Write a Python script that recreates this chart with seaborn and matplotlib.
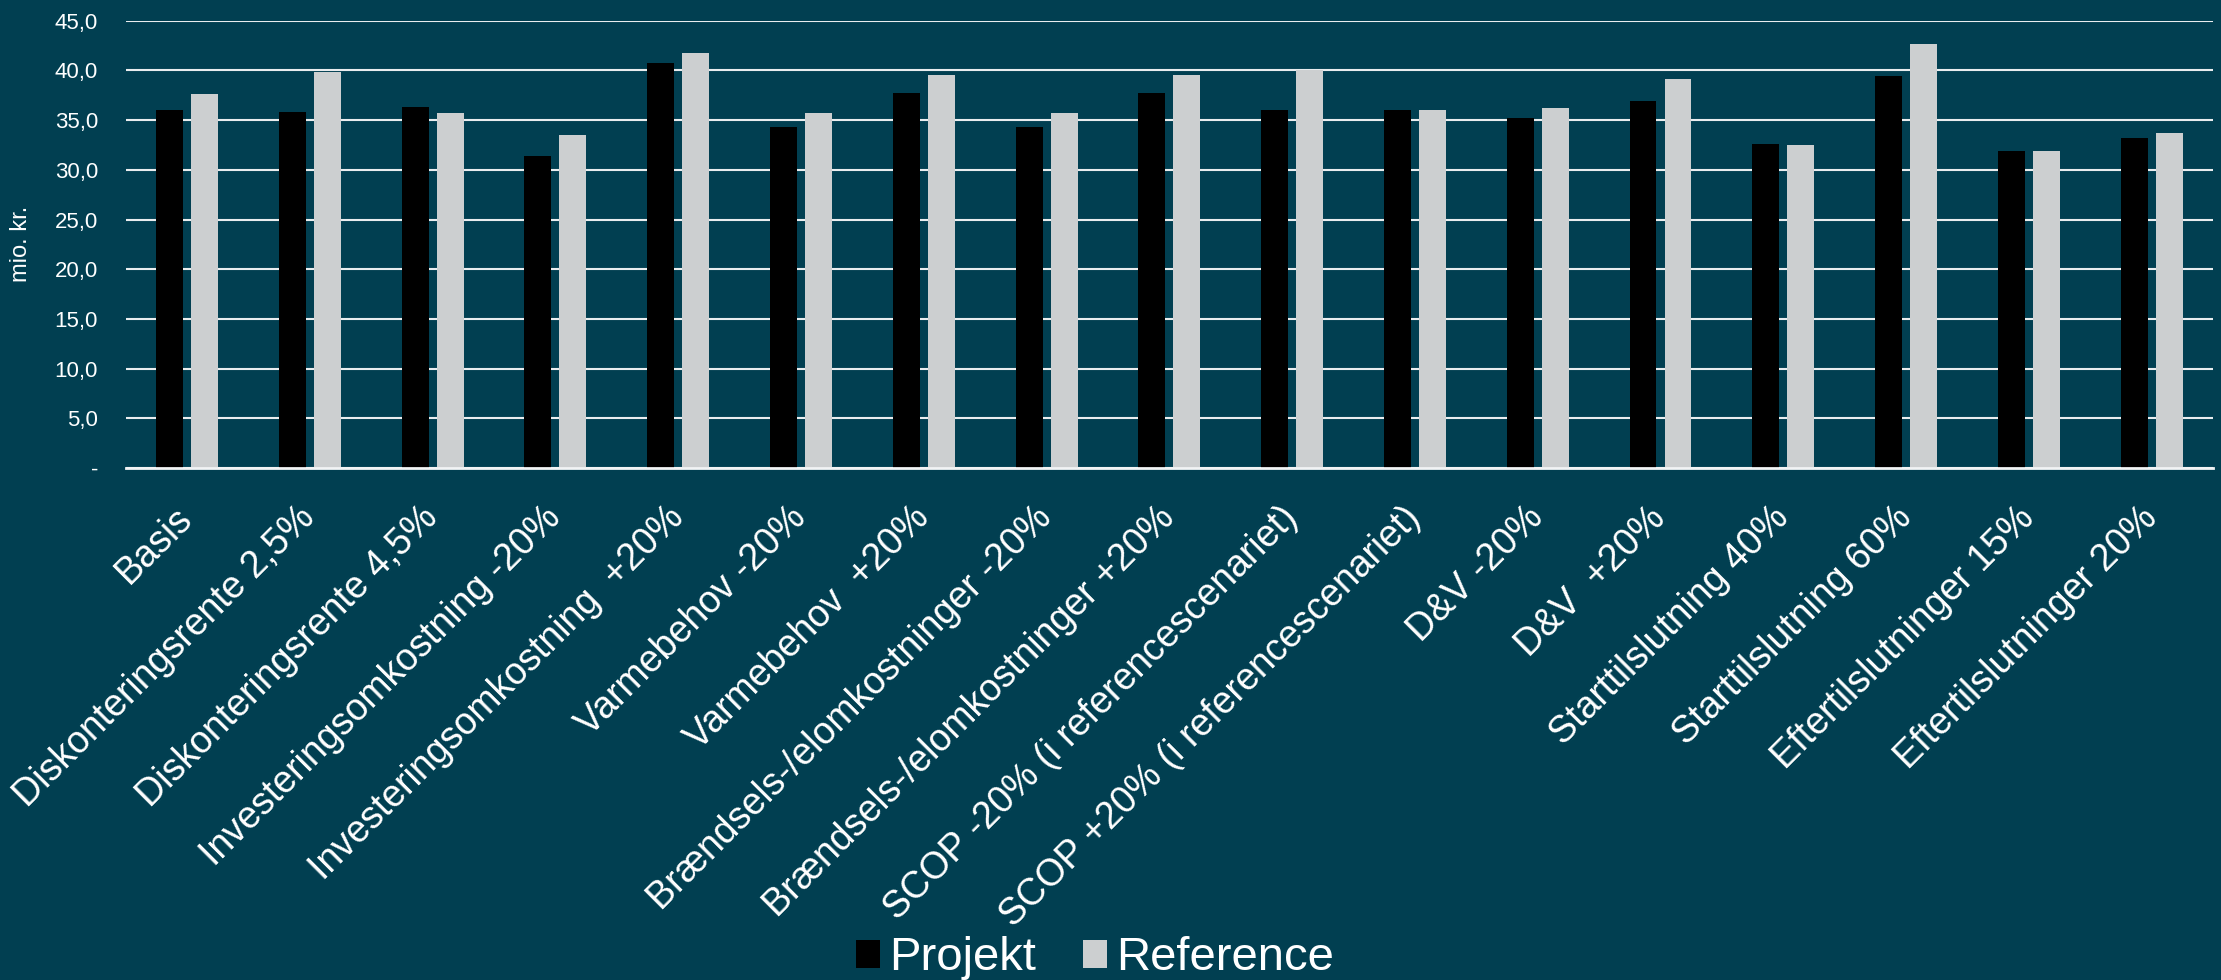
import matplotlib
matplotlib.use("Agg")
import matplotlib.pyplot as plt
import seaborn as sns
import pandas as pd
import numpy as np

# ---- data ----
categories = [
    "Basis",
    "Diskonteringsrente 2,5%",
    "Diskonteringsrente 4,5%",
    "Investeringsomkostning -20%",
    "Investeringsomkostning  +20%",
    "Varmebehov -20%",
    "Varmebehov  +20%",
    "Brændsels-/elomkostninger -20%",
    "Brændsels-/elomkostninger +20%",
    "SCOP -20% (i referencescenariet)",
    "SCOP +20% (i referencescenariet)",
    "D&V -20%",
    "D&V  +20%",
    "Starttilslutning 40%",
    "Starttilslutning 60%",
    "Eftertilslutninger 15%",
    "Eftertilslutninger 20%",
]
projekt = [36.0, 35.8, 36.3, 31.4, 40.7, 34.3, 37.7, 34.3, 37.7, 36.0, 36.0, 35.2, 36.9, 32.6, 39.4, 31.9, 33.2]
reference = [37.6, 39.8, 35.7, 33.5, 41.7, 35.7, 39.5, 35.7, 39.5, 40.0, 36.0, 36.2, 39.1, 32.5, 42.7, 31.9, 33.7]
series_names = ["Projekt", "Reference"]
y_ticks = [0, 5, 10, 15, 20, 25, 30, 35, 40, 45]
y_tick_labels = ["-", "5,0", "10,0", "15,0", "20,0", "25,0", "30,0", "35,0", "40,0", "45,0"]
y_label = "mio. kr."

# ---- style ----
BG = "#013F51"
COLORS = {"Projekt": "#000000", "Reference": "#CCCFD0"}

sns.set_theme(style="white")
plt.rcParams["font.family"] = ["Liberation Sans", "DejaVu Sans"]

n = len(categories)
df = pd.DataFrame({
    "Scenarie": categories * 2,
    "Serie": [series_names[0]] * n + [series_names[1]] * n,
    "Værdi": projekt + reference,
})

fig = plt.figure(figsize=(22.21, 9.8), dpi=100, facecolor=BG)
ax = fig.add_axes([0.0566, 0.5224, 0.9398, 0.4565], facecolor=BG)

sns.barplot(data=df, x="Scenarie", y="Værdi", hue="Serie", hue_order=series_names,
            palette=COLORS, width=0.57, gap=0.23, saturation=1, linewidth=0,
            errorbar=None, ax=ax)

ax.set_xlim(-0.5, n - 0.5)
ax.set_ylim(0, 45)
ax.set_yticks(y_ticks)
ax.set_yticklabels(y_tick_labels)
ax.grid(axis="y", color="#E9EDEF", linewidth=1.5)
ax.grid(axis="x", visible=False)
ax.set_axisbelow(True)
for s in ["top", "right", "left"]:
    ax.spines[s].set_visible(False)
ax.spines["bottom"].set_color("#F2F4F5")
ax.spines["bottom"].set_linewidth(2.0)

ax.tick_params(axis="y", length=0, pad=20, labelsize=16, labelcolor="white")
ax.tick_params(axis="x", length=0, pad=32, labelsize=27, labelcolor="white")
for lbl in ax.get_xticklabels():
    lbl.set_rotation(45)
    lbl.set_ha("right")
    lbl.set_va("center")
    lbl.set_rotation_mode("anchor")

ax.set_xlabel("")
ax.set_ylabel(y_label, fontsize=17, color="white")
ax.yaxis.set_label_coords(-0.045, 0.5)

h, l = ax.get_legend_handles_labels()
if ax.get_legend() is not None:
    ax.get_legend().remove()
fig.legend(h, l, loc="center", bbox_to_anchor=(0.493, 0.022), ncol=2, frameon=False,
           fontsize=34, labelcolor="white", handlelength=0.5, handleheight=0.55,
           handletextpad=0.2, columnspacing=1.0)

fig.savefig("out.png", dpi=100, facecolor=BG)
